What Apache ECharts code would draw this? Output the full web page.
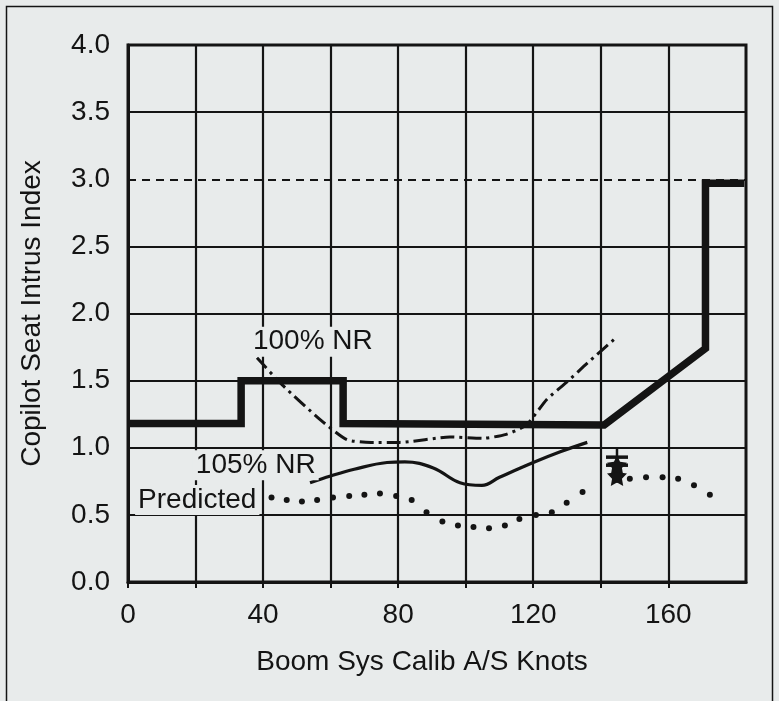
<!DOCTYPE html>
<html>
<head>
<meta charset="utf-8">
<script src="https://cdn.jsdelivr.net/npm/echarts@6.0.0/dist/echarts.min.js"></script>
<style>
  html, body { margin: 0; padding: 0; background: #e8ebeb; }
  #chart { width: 779px; height: 701px; }
</style>
</head>
<body>
<div id="chart"></div>
<script>
// ---- axes / grid values ----
const xTickValues = [0, 20, 40, 60, 80, 100, 120, 140, 160];
const xLabelValues = [0, 40, 80, 120, 160];
const xGridValues = [20, 40, 60, 80, 100, 120, 140, 160];
const yGridValues = [0.5, 1.0, 1.5, 2.0, 2.5, 3.5];
const yDashedValues = [3.0];

// ---- thick stepped limit line ----
const limitX = [0, 33.5, 33.5, 63.7, 63.7, 141, 171, 171, 182.5];
const limitY = [1.18, 1.18, 1.5, 1.5, 1.18, 1.17, 1.74, 2.97, 2.97];

// ---- 100% NR (dash-dot) ----
const nr100X = [38.2, 45.6, 56.9, 64.8, 72, 80.5, 95.3, 105, 112, 118, 124, 130, 136, 145];
const nr100Y = [1.67, 1.47, 1.21, 1.06, 1.04, 1.04, 1.08, 1.07, 1.10, 1.17, 1.36, 1.49, 1.63, 1.83];

// ---- 105% NR (solid) ----
const nr105X = [53.9, 60, 67, 76.7, 82, 90.4, 98.3, 104.8, 110, 120, 128, 136];
const nr105Y = [0.74, 0.79, 0.84, 0.89, 0.895, 0.85, 0.74, 0.72, 0.78, 0.89, 0.97, 1.04];

// ---- Predicted (dotted) ----
const predX = [42.5, 47, 51.5, 56, 60.7, 65.5, 70, 74.6, 79.4, 84, 88.4, 93.1, 97.7, 102.3, 106.9, 111.6, 115.9, 120.8, 125.5, 129.9, 134.6, 148.6, 153.4, 158.3, 162.9, 167.6, 172.3];
const predY = [0.63, 0.61, 0.60, 0.61, 0.63, 0.64, 0.65, 0.66, 0.64, 0.61, 0.52, 0.45, 0.42, 0.41, 0.40, 0.42, 0.47, 0.50, 0.52, 0.59, 0.67, 0.77, 0.78, 0.78, 0.77, 0.72, 0.65];

// ---- test point markers ----
const starX = [144.8, 144.8];
const starY = [0.79, 0.87];
const barX = [144.8, 144.8];
const barY = [0.93, 0.87];
const whiskerX = [144.8, 144.8];
const whiskerY = [0.74, 1.0];

// ---- annotations ----
const noteText = ['100% NR', '105% NR', 'Predicted'];
const noteX = [36.1, 19.2, 2.1];
const noteY = [1.79, 0.87, 0.61];

const zip = (xs, ys) => xs.map((x, i) => [x, ys[i]]);
const INK = '#141414';
const BG = '#e8ebeb';
const FONT = "'Liberation Sans', Arial, Helvetica, sans-serif";
const FS = 28;
const STAR = 'path://M0,-10 L2.9,-4 L9.5,-3.1 L4.7,1.5 L5.9,8.1 L0,5 L-5.9,8.1 L-4.7,1.5 L-9.5,-3.1 L-2.9,-4 Z';

const chart = echarts.init(document.getElementById('chart'), null, { renderer: 'canvas' });

const option = {
  backgroundColor: BG,
  animation: false,
  graphic: [{
    type: 'rect',
    shape: { x: 6.5, y: 6.5, width: 766, height: 720 },
    style: { fill: 'none', stroke: INK, lineWidth: 1.5 },
    z: 0
  }],
  grid: {
    left: 128, right: 33, top: 45, bottom: 119,
    show: true, borderColor: INK, borderWidth: 3, backgroundColor: 'transparent'
  },
  xAxis: {
    type: 'value', min: 0, max: 183, interval: 20,
    name: 'Boom Sys Calib A/S Knots', nameLocation: 'middle', nameGap: 66,
    nameTextStyle: { fontFamily: FONT, fontSize: FS, color: INK, padding: [0, 30, 0, 0] },
    axisLine: { show: true, lineStyle: { color: INK, width: 3 } },
    axisTick: { show: true, length: 6, inside: false, lineStyle: { color: INK, width: 2 }, customValues: xTickValues },
    axisLabel: {
      fontFamily: FONT, fontSize: FS, color: INK, margin: 19,
      customValues: xLabelValues,
      formatter: v => (xLabelValues.indexOf(v) >= 0 ? String(v) : '')
    },
    splitLine: { show: false }
  },
  yAxis: {
    type: 'value', min: 0, max: 4, interval: 0.5,
    name: 'Copilot Seat Intrus Index', nameLocation: 'middle', nameGap: 82,
    nameTextStyle: { fontFamily: FONT, fontSize: FS, color: INK },
    axisLine: { show: true, lineStyle: { color: INK, width: 3 } },
    axisTick: { show: false },
    axisLabel: { fontFamily: FONT, fontSize: FS, color: INK, margin: 18, formatter: v => v.toFixed(1) },
    splitLine: { show: false }
  },
  series: [
    {
      name: 'grid', type: 'line', data: [], z: 1, silent: true,
      markLine: {
        silent: true, symbol: ['none', 'none'], label: { show: false },
        lineStyle: { color: INK, width: 2.2, type: 'solid' },
        data: [
          ...xGridValues.map(v => ({ xAxis: v })),
          ...yGridValues.map(v => ({ yAxis: v })),
          ...yDashedValues.map(v => ({ yAxis: v, lineStyle: { type: [8, 6], width: 2.2, color: INK } }))
        ]
      }
    },
    {
      name: 'Limit', type: 'line', data: zip(limitX, limitY), z: 3,
      showSymbol: false, symbol: 'none',
      lineStyle: { color: INK, width: 7.5, join: 'miter', cap: 'butt' }
    },
    {
      name: '100% NR', type: 'line', data: zip(nr100X, nr100Y), z: 3,
      symbol: 'none', smooth: 0.2,
      lineStyle: { color: INK, width: 3, type: [14, 5, 3, 5] }
    },
    {
      name: '105% NR', type: 'line', data: zip(nr105X, nr105Y), z: 3,
      symbol: 'none', smooth: 0.4,
      lineStyle: { color: INK, width: 3.2 }
    },
    {
      name: 'Predicted', type: 'scatter', data: zip(predX, predY), z: 3,
      symbol: 'circle', symbolSize: 6, itemStyle: { color: INK, opacity: 1 }
    },
    {
      name: 'whisker', type: 'line', data: zip(whiskerX, whiskerY), z: 4,
      symbol: 'none', lineStyle: { color: INK, width: 2.5 }
    },
    {
      name: 'bars', type: 'scatter', data: zip(barX, barY), z: 4,
      symbol: 'rect', symbolSize: [22, 3.5], itemStyle: { color: INK, opacity: 1 }
    },
    {
      name: 'stars', type: 'scatter', data: zip(starX, starY), z: 4,
      symbol: STAR, symbolSize: 20, itemStyle: { color: INK, opacity: 1 }
    },
    {
      name: 'notes', type: 'scatter', z: 6, silent: true,
      data: noteText.map((t, i) => ({ value: [noteX[i], noteY[i]], name: t })),
      symbolSize: 0,
      itemStyle: { opacity: 1 },
      label: {
        show: true, position: 'right', distance: 0,
        formatter: p => p.name,
        fontFamily: FONT, fontSize: FS, color: INK, opacity: 1,
        backgroundColor: BG, padding: [1, 3]
      }
    }
  ]
};
chart.setOption(option);
</script>
</body>
</html>
